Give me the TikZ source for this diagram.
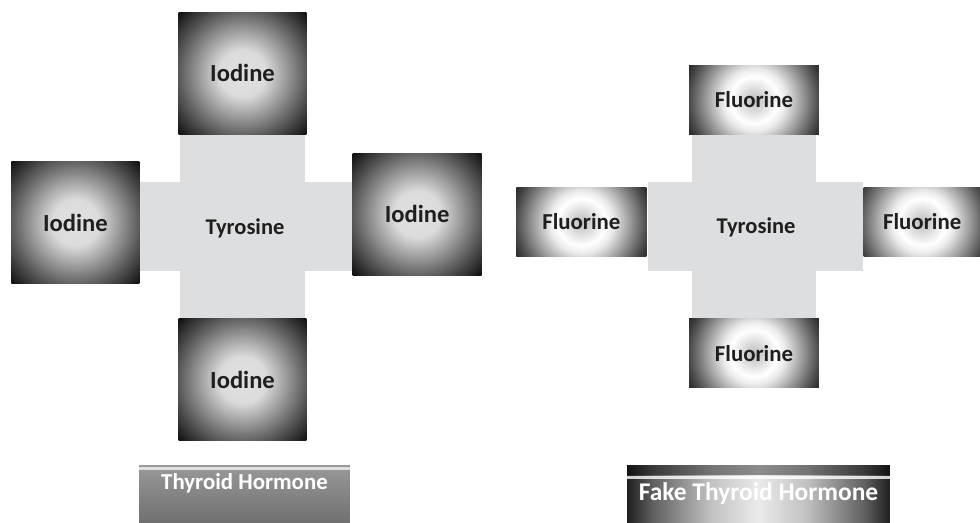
\documentclass[tikz,border=0pt]{standalone}
\usepackage{fontspec}
\setmainfont{Carlito}
\usetikzlibrary{positioning}
\definecolor{TyroGray}{HTML}{DCDEE0}
\pgfdeclareradialshading{iodglow}{\pgfpoint{0bp}{0bp}}{color(0bp)=(black!12); color(9bp)=(black!14); color(25bp)=(black!66); color(34bp)=(black!94); color(50bp)=(black!94)}
\pgfdeclareradialshading{fluglow}{\pgfpoint{0bp}{0bp}}{color(0bp)=(black!26); color(5bp)=(black!12); color(9bp)=(white); color(12bp)=(black!8); color(25bp)=(black!72); color(29bp)=(black!88); color(50bp)=(black!88)}
\pgfdeclarehorizontalshading{fakesheen}{100bp}{color(0bp)=(black!88); color(25bp)=(black!88); color(30bp)=(black!62); color(41bp)=(black!24); color(50bp)=(black!8); color(59bp)=(black!24); color(70bp)=(black!62); color(75bp)=(black!88); color(100bp)=(black!88)}

\begin{document}
\begin{tikzpicture}[x=0.02cm, y=-0.02cm,
      glow/.style={path picture={\shade[shading=#1]
        ([shift={(-1.3cm,-1.3cm)}]path picture bounding box.center) rectangle
        ([shift={(1.3cm,1.3cm)}]path picture bounding box.center);}},
      iod/.style={rectangle, inner sep=0pt, glow=iodglow, minimum width=2.56cm,
        minimum height=2.44cm, text=black!88, font=\fontsize{14}{16}\selectfont\bfseries},
      flu/.style={rectangle, inner sep=0pt, glow=fluglow, minimum width=2.62cm,
        minimum height=1.38cm, text=black!88, font=\fontsize{13}{15}\selectfont\bfseries},
      arm/.style={rectangle, inner sep=0pt, fill=TyroGray},
      tyr/.style={text=black!88, font=\fontsize{12.8}{15}\selectfont\bfseries},
      plate/.style={rectangle, inner sep=0pt, minimum height=1.14cm},
      ptext/.style={text=white, font=\fontsize{#1}{16}\selectfont\bfseries}]
      \useasboundingbox (0,0) rectangle (980,522);
      % thyroid hormone
      \node[arm, minimum width=2.5cm, minimum height=3.66cm] (v1) at (242.5,226.5) {};
      \node[arm, minimum width=4.24cm, minimum height=1.78cm] (h1) at (246,226.5) {};
      \node[tyr] (ty1) at (245,228) {Tyrosine};
      \node[iod, above=0pt of v1] (i1) {Iodine};
      \node[iod, left=0pt of h1, yshift=0.08cm] (i2) {Iodine};
      \node[iod, right=0pt of h1, yshift=0.25cm, minimum width=2.58cm] (i3) {Iodine};
      \node[iod, below=0pt of v1] (i4) {Iodine};
      % fake thyroid hormone
      \node[arm, minimum width=2.48cm, minimum height=3.66cm] (v2) at (754,226.5) {};
      \node[arm, minimum width=4.3cm, minimum height=1.78cm] (h2) at (755.5,226.5) {};
      \node[tyr] (ty2) at (756,227) {Tyrosine};
      \node[flu, above=0pt of v2] (f1) {Fluorine};
      \node[flu, left=0pt of h2, yshift=0.09cm, minimum width=2.64cm] (f2) {Fluorine};
      \node[flu, right=0pt of h2, yshift=0.09cm, minimum width=2.34cm] (f3) {Fluorine};
      \node[flu, below=0pt of v2] (f4) {Fluorine};
      % name plates
      \node[plate, minimum width=4.22cm, top color=black!40, bottom color=black!56,
        path picture={\draw[white, opacity=.7, line width=1.2pt]
          ([yshift=-0.07cm]path picture bounding box.north west) --
          ([yshift=-0.07cm]path picture bounding box.north east);}] (thp) at (244.5,493.5) {};
      \node[ptext=13, at={([yshift=0.21cm]thp.center)}] (thl) {Thyroid Hormone};
      \node[plate, minimum width=5.26cm, shading=fakesheen,
        path picture={\fill[black, opacity=.4]
          (path picture bounding box.north west) rectangle
          ([yshift=-0.2cm]path picture bounding box.north east);
          \draw[white, opacity=.8, line width=1.2pt]
          ([yshift=-0.25cm]path picture bounding box.north west) --
          ([yshift=-0.25cm]path picture bounding box.north east);}] (fkp) at (758.5,493.5) {};
      \node[ptext=14.5, at={([yshift=-0.01cm]fkp.center)}] (fkl) {Fake Thyroid Hormone};
    \end{tikzpicture}
\end{document}
